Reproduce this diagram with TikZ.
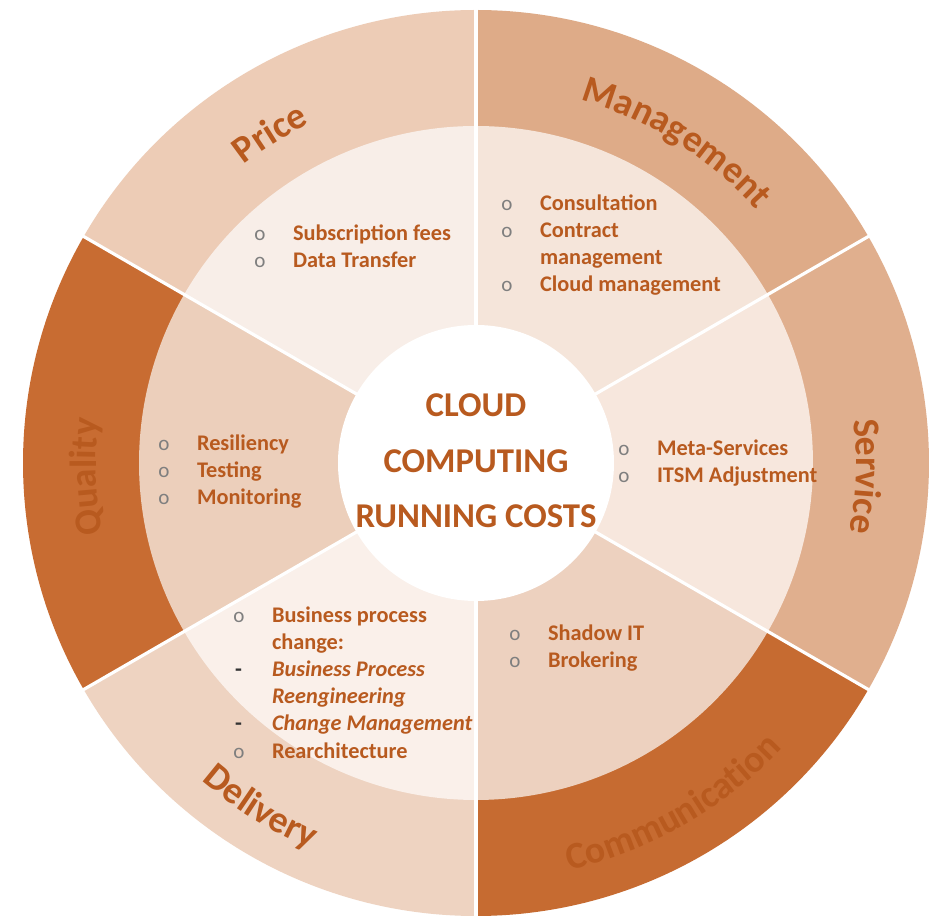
\documentclass[tikz,border=0pt]{standalone}
\usepackage{fontspec}
\setmainfont{Carlito}
\usetikzlibrary{decorations.text}

\definecolor{txtc}{HTML}{B85A1F}
\definecolor{bulgrey}{HTML}{7F7F7F}
\definecolor{priceout}{HTML}{EDCCB6}
\definecolor{pricein}{HTML}{F8EEE8}
\definecolor{mgmtout}{HTML}{DEAB88}
\definecolor{mgmtin}{HTML}{F5E5DA}
\definecolor{servout}{HTML}{E0AF8E}
\definecolor{servin}{HTML}{F7E7DD}
\definecolor{commout}{HTML}{C66B31}
\definecolor{commin}{HTML}{EDD1BF}
\definecolor{delivout}{HTML}{EED3C1}
\definecolor{delivin}{HTML}{FAF0EA}
\definecolor{qualout}{HTML}{C86C32}
\definecolor{qualin}{HTML}{ECCFBB}

\newcommand{\bul}{\makebox[22pt][l]{\textcolor{bulgrey}{\mdseries\fontsize{12}{12}\selectfont o}}}
\newcommand{\dsh}{\makebox[22pt][l]{\hspace{1pt}\textcolor{black!80}{-}}}
\newcommand{\ind}{\makebox[22pt][l]{}}

\tikzset{
  listtext/.style={anchor=north west, inner sep=0pt, align=left, text=txtc,
    font=\bfseries\fontsize{12.7}{15.5}\selectfont},
  ringlabel/.style={decorate, decoration={text along path, text align=center,
    text color=txtc, text={|\bfseries\fontsize{21.5}{21.5}\selectfont|#1}}}
}

\begin{document}
\begin{tikzpicture}[x=0.02cm, y=0.02cm]
  % Fix the size of the picture
  \useasboundingbox (-476,-459) rectangle (461,463);
  \fill[white] (-476,-459) rectangle (461,463);

  % Draw the outer ring
  \fill[mgmtout] (0,0) -- (30:453) arc[start angle=30, end angle=90, radius=453] -- cycle;
  \fill[priceout] (0,0) -- (90:453) arc[start angle=90, end angle=150, radius=453] -- cycle;
  \fill[qualout] (0,0) -- (150:453) arc[start angle=150, end angle=210, radius=453] -- cycle;
  \fill[delivout] (0,0) -- (210:453) arc[start angle=210, end angle=270, radius=453] -- cycle;
  \fill[commout] (0,0) -- (270:453) arc[start angle=270, end angle=330, radius=453] -- cycle;
  \fill[servout] (0,0) -- (-30:453) arc[start angle=-30, end angle=30, radius=453] -- cycle;

  % Draw the inner ring
  \fill[mgmtin] (0,0) -- (30:337) arc[start angle=30, end angle=90, radius=337] -- cycle;
  \fill[pricein] (0,0) -- (90:337) arc[start angle=90, end angle=150, radius=337] -- cycle;
  \fill[qualin] (0,0) -- (150:337) arc[start angle=150, end angle=210, radius=337] -- cycle;
  \fill[delivin] (0,0) -- (210:337) arc[start angle=210, end angle=270, radius=337] -- cycle;
  \fill[commin] (0,0) -- (270:337) arc[start angle=270, end angle=330, radius=337] -- cycle;
  \fill[servin] (0,0) -- (-30:337) arc[start angle=-30, end angle=30, radius=337] -- cycle;

  % White gaps between the parts
  \draw[white, line width=1.8pt] (30:100) -- (30:460);
  \draw[white, line width=1.8pt] (90:100) -- (90:460);
  \draw[white, line width=1.8pt] (150:100) -- (150:460);
  \draw[white, line width=1.8pt] (210:100) -- (210:460);
  \draw[white, line width=1.8pt] (270:100) -- (270:460);
  \draw[white, line width=1.8pt] (330:100) -- (330:460);

  % Centre circle
  \fill[white] (0,0) circle[radius=138];
  \node[text=txtc, align=center, font=\bfseries\fontsize{19.8}{31.7}\selectfont] (title) at (0,2)
    {CLOUD\\COMPUTING\\RUNNING COSTS};

  % Names along the outer ring
  \path[ringlabel=Price] (150:378) arc[start angle=150, end angle=94, radius=378];
  \path[ringlabel=Management] (86:378) arc[start angle=86, end angle=30, radius=378];
  \path[ringlabel=Service] (26:380) arc[start angle=26, end angle=-30, radius=380];
  \path[ringlabel=Quality] (210:380) arc[start angle=210, end angle=154, radius=380];
  \path[ringlabel=Delivery] (210:420) arc[start angle=210, end angle=266, radius=420];
  \path[ringlabel=Communication] (-88:418) arc[start angle=-88, end angle=-32, radius=418];

  % Lists in the inner ring
  \node[listtext] (pricelist) at (-222,239)
    {\bul Subscription fees\\ \bul Data Transfer};
  \node[listtext] (mgmtlist) at (25,269)
    {\bul Consultation\\ \bul Contract\\ \ind management\\ \bul Cloud management};
  \node[listtext] (quallist) at (-318,29)
    {\bul Resiliency\\ \bul Testing\\ \bul Monitoring};
  \node[listtext] (servlist) at (142,24)
    {\bul Meta-Services\\ \bul ITSM Adjustment};
  \node[listtext] (delivlist) at (-243,-143)
    {\bul Business process\\ \ind change:\\ \dsh \textit{Business Process}\\ \ind \textit{Reengineering}\\
     \dsh \textit{Change Management}\\ \bul Rearchitecture};
  \node[listtext] (commlist) at (33,-161)
    {\bul Shadow IT\\ \bul Brokering};
\end{tikzpicture}
\end{document}
